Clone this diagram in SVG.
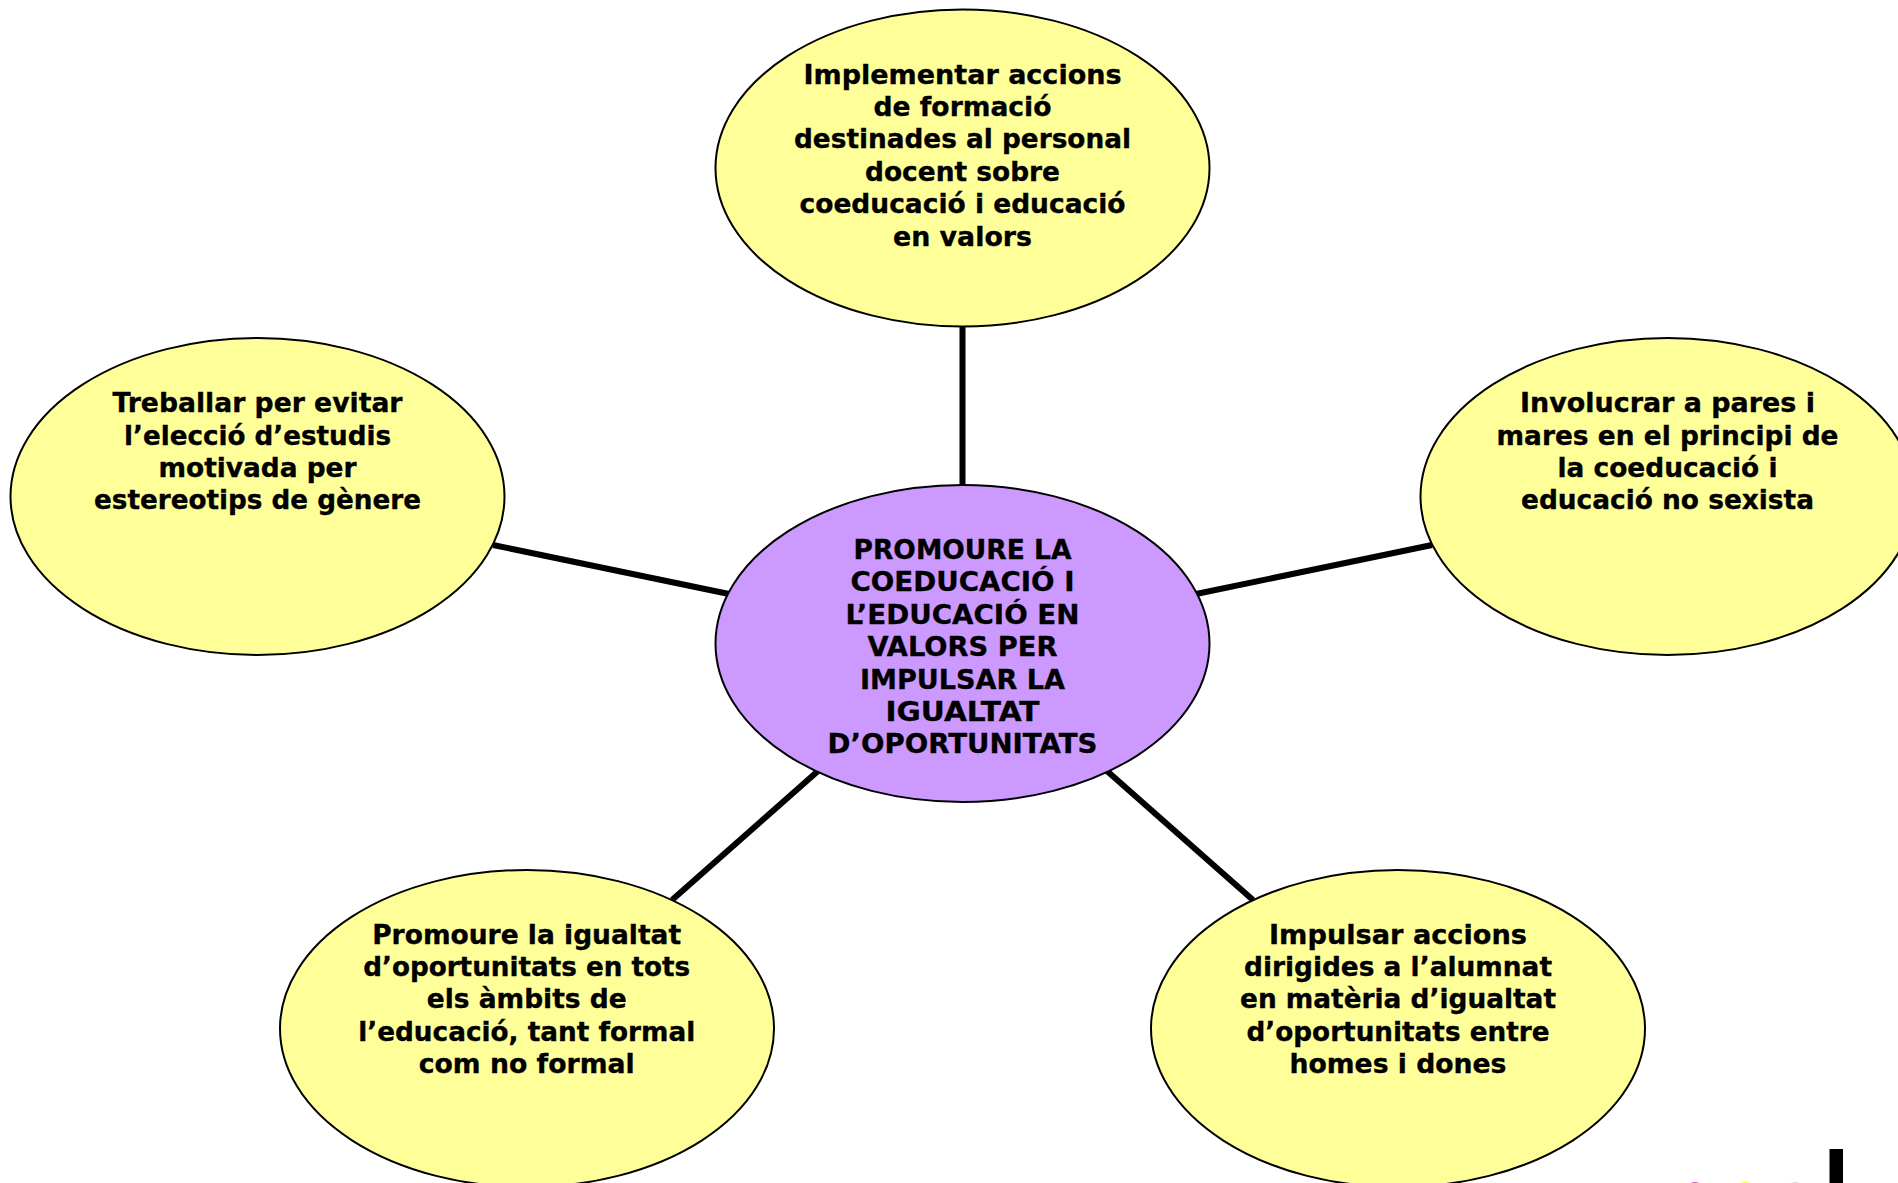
<svg xmlns="http://www.w3.org/2000/svg" width="1898" height="1183" viewBox="0 0 1898 1183">
<style>
.n{stroke:#000;stroke-width:2}
.y{fill:#ffff99}
.p{fill:#cc99ff}
.c line{stroke:#000;stroke-width:6}
text{font-family:"DejaVu Sans",Verdana,sans-serif;font-weight:700;font-size:26.5px;fill:#000;stroke:#000;stroke-width:.35px;text-anchor:middle}
</style>
<rect width="1898" height="1183" fill="#fff"/>
<g id="connectors" class="c">
<line x1="962.5" y1="325" x2="962.5" y2="486"/>
<line x1="493" y1="545" x2="729" y2="594"/>
<line x1="1432" y1="545" x2="1196" y2="594"/>
<line x1="818" y1="771" x2="672" y2="900"/>
<line x1="1107" y1="771" x2="1253" y2="900"/>
</g>
<g id="node-top"><ellipse class="n y" cx="962.5" cy="168" rx="247" ry="158.5"/>
<text x="962.5" y="83.7" textLength="318" lengthAdjust="spacingAndGlyphs">Implementar accions</text><text x="962.5" y="116" textLength="178" lengthAdjust="spacingAndGlyphs">de formació</text><text x="962.5" y="148.4" textLength="337" lengthAdjust="spacingAndGlyphs">destinades al personal</text><text x="962.5" y="180.8" textLength="195" lengthAdjust="spacingAndGlyphs">docent sobre</text><text x="962.5" y="213.2" textLength="326" lengthAdjust="spacingAndGlyphs">coeducació i educació</text><text x="962.5" y="245.6" textLength="139" lengthAdjust="spacingAndGlyphs">en valors</text></g>
<g id="node-left"><ellipse class="n y" cx="257.5" cy="496.5" rx="247" ry="158.5"/>
<text x="257.5" y="412.3" textLength="290" lengthAdjust="spacingAndGlyphs">Treballar per evitar</text><text x="257.5" y="444.7" textLength="267" lengthAdjust="spacingAndGlyphs">l’elecció d’estudis</text><text x="257.5" y="477" textLength="198" lengthAdjust="spacingAndGlyphs">motivada per</text><text x="257.5" y="509.4" textLength="327" lengthAdjust="spacingAndGlyphs">estereotips de gènere</text></g>
<g id="node-right"><ellipse class="n y" cx="1667.5" cy="496.5" rx="247" ry="158.5"/>
<text x="1667.5" y="412.3" textLength="295" lengthAdjust="spacingAndGlyphs">Involucrar a pares i</text><text x="1667.5" y="444.7" textLength="342" lengthAdjust="spacingAndGlyphs">mares en el principi de</text><text x="1667.5" y="477" textLength="220" lengthAdjust="spacingAndGlyphs">la coeducació i</text><text x="1667.5" y="509.4" textLength="293" lengthAdjust="spacingAndGlyphs">educació no sexista</text></g>
<g id="node-center"><ellipse class="n p" cx="962.5" cy="643.5" rx="247" ry="158.5"/>
<text x="962.5" y="559" textLength="218" lengthAdjust="spacingAndGlyphs">PROMOURE LA</text><text x="962.5" y="591.4" textLength="224" lengthAdjust="spacingAndGlyphs">COEDUCACIÓ I</text><text x="962.5" y="623.8" textLength="234" lengthAdjust="spacingAndGlyphs">L’EDUCACIÓ EN</text><text x="962.5" y="656.2" textLength="190" lengthAdjust="spacingAndGlyphs">VALORS PER</text><text x="962.5" y="688.6" textLength="205" lengthAdjust="spacingAndGlyphs">IMPULSAR LA</text><text x="962.5" y="721" textLength="154" lengthAdjust="spacingAndGlyphs">IGUALTAT</text><text x="962.5" y="753.4" textLength="270" lengthAdjust="spacingAndGlyphs">D’OPORTUNITATS</text></g>
<g id="node-bottom-left"><ellipse class="n y" cx="527" cy="1028.5" rx="247" ry="158.5"/>
<text x="526.7" y="943.7" textLength="309" lengthAdjust="spacingAndGlyphs">Promoure la igualtat</text><text x="526.7" y="976" textLength="327" lengthAdjust="spacingAndGlyphs">d’oportunitats en tots</text><text x="526.7" y="1008.3" textLength="200" lengthAdjust="spacingAndGlyphs">els àmbits de</text><text x="526.7" y="1040.7" textLength="337" lengthAdjust="spacingAndGlyphs">l’educació, tant formal</text><text x="526.7" y="1073" textLength="216" lengthAdjust="spacingAndGlyphs">com no formal</text></g>
<g id="node-bottom-right"><ellipse class="n y" cx="1398" cy="1028.5" rx="247" ry="158.5"/>
<text x="1398" y="943.7" textLength="258" lengthAdjust="spacingAndGlyphs">Impulsar accions</text><text x="1398" y="976" textLength="308" lengthAdjust="spacingAndGlyphs">dirigides a l’alumnat</text><text x="1398" y="1008.3" textLength="316" lengthAdjust="spacingAndGlyphs">en matèria d’igualtat</text><text x="1398" y="1040.7" textLength="303" lengthAdjust="spacingAndGlyphs">d’oportunitats entre</text><text x="1398" y="1073" textLength="217" lengthAdjust="spacingAndGlyphs">homes i dones</text></g>
<rect x="1829.5" y="1149" width="13.5" height="34" fill="#000"/>
<ellipse cx="1695" cy="1184" rx="4.5" ry="2" fill="#cc66cc"/>
<ellipse cx="1745" cy="1184" rx="4.5" ry="2" fill="#ffff33"/>
<ellipse cx="1795" cy="1184" rx="4.5" ry="2" fill="#eeccee"/>
</svg>
